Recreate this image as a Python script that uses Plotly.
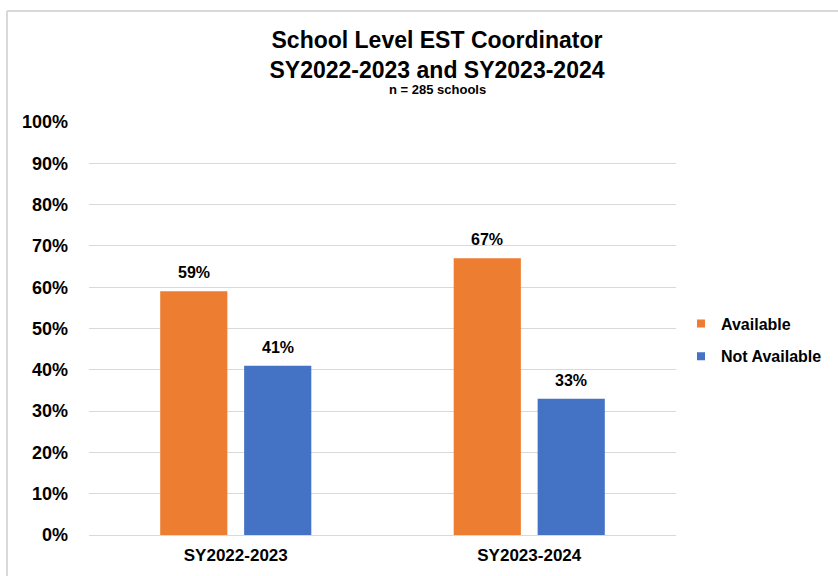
import plotly.graph_objects as go

# Chart data
years = ["SY2022-2023", "SY2023-2024"]
available = [59, 67]
not_available = [41, 33]
series_names = ["Available", "Not Available"]
tick_vals = [0, 10, 20, 30, 40, 50, 60, 70, 80, 90, 100]
tick_text = [f"{v}%" for v in tick_vals]
subtitle = "n = 285 schools"

ORANGE = "#ED7D31"
BLUE = "#4472C4"
GRID = "#D9D9D9"
FONT = "Liberation Sans, Arial"

# Plot area geometry (pixels)
W, H = 838, 576
L, R, T, B = 89, 162, 122, 41
pw, ph = W - L - R, H - T - B

fig = go.Figure()
series = [(series_names[0], available, ORANGE), (series_names[1], not_available, BLUE)]
for name, vals, color in series:
    fig.add_trace(go.Bar(
        name=name, x=years, y=vals, offsetgroup=name,
        marker=dict(color=color, line=dict(width=0)),
        showlegend=False,
    ))
    # square legend key for the series
    fig.add_trace(go.Scatter(
        name=f"<b>{name}</b>", x=[None], y=[None], mode="markers", legendgroup=name,
        marker=dict(symbol="square", size=8, color=color),
    ))

# value labels above each bar
for i, (name, vals, color) in enumerate(series):
    for j, v in enumerate(vals):
        fig.add_annotation(
            x=j + (-0.5 + i) * 0.286, y=v, xref="x", yref="y",
            text=f"<b>{v}%</b>", showarrow=False, yanchor="bottom", yshift=8,
            font=dict(family=FONT, size=16, color="#000000"),
        )

# subtitle under the title (paper coords are relative to the plot area)
fig.add_annotation(
    x=(437 - L) / pw, y=(H - B - 89) / ph, xref="paper", yref="paper",
    text=f"<b>{subtitle}</b>", showarrow=False, xanchor="center", yanchor="middle",
    font=dict(family=FONT, size=13, color="#000000"),
)

fig.update_layout(
    width=W, height=H,
    margin=dict(l=L, r=R, t=T, b=B, autoexpand=False),
    paper_bgcolor="white", plot_bgcolor="white",
    barmode="group", bargap=0.428, bargroupgap=0.2,
    font=dict(family=FONT, color="#000000"),
    title=dict(
        text="<b>School Level EST Coordinator<br>SY2022-2023 and SY2023-2024</b>",
        x=437 / W, xanchor="center", y=1 - 48 / H, yanchor="middle",
        font=dict(family=FONT, size=23, color="#000000"),
    ),
    legend=dict(
        x=(681 - L) / pw, xanchor="left", y=(H - B - 340) / ph, yanchor="middle",
        font=dict(family=FONT, size=16, color="#000000"),
        tracegroupgap=9, bgcolor="rgba(0,0,0,0)",
    ),
    xaxis=dict(
        showgrid=False, showline=False, ticks="", ticklabelstandoff=8,
        tickfont=dict(family=FONT, size=17, color="#000000"),
        tickvals=[0, 1], ticktext=[f"<b>{y}</b>" for y in years],
    ),
    yaxis=dict(
        range=[0, 100], tickvals=tick_vals, ticktext=[f"<b>{t}</b>" for t in tick_text],
        showgrid=True, gridcolor=GRID, gridwidth=1,
        zeroline=True, zerolinecolor=GRID, zerolinewidth=1,
        showline=False, ticks="", ticklabelstandoff=20,
        tickfont=dict(family=FONT, size=18, color="#000000"),
    ),
)

# Outer chart border (top and left visible within the canvas)
bx0 = (7 - L) / pw
by1 = (H - B - 11) / ph
fig.add_shape(type="line", xref="paper", yref="paper",
              x0=bx0, x1=(W + 10 - L) / pw, y0=by1, y1=by1,
              line=dict(color="#D9D9D9", width=2))
fig.add_shape(type="line", xref="paper", yref="paper",
              x0=bx0, x1=bx0, y0=by1, y1=-(B + 10) / ph,
              line=dict(color="#D9D9D9", width=2))

fig.write_html("out.html")
